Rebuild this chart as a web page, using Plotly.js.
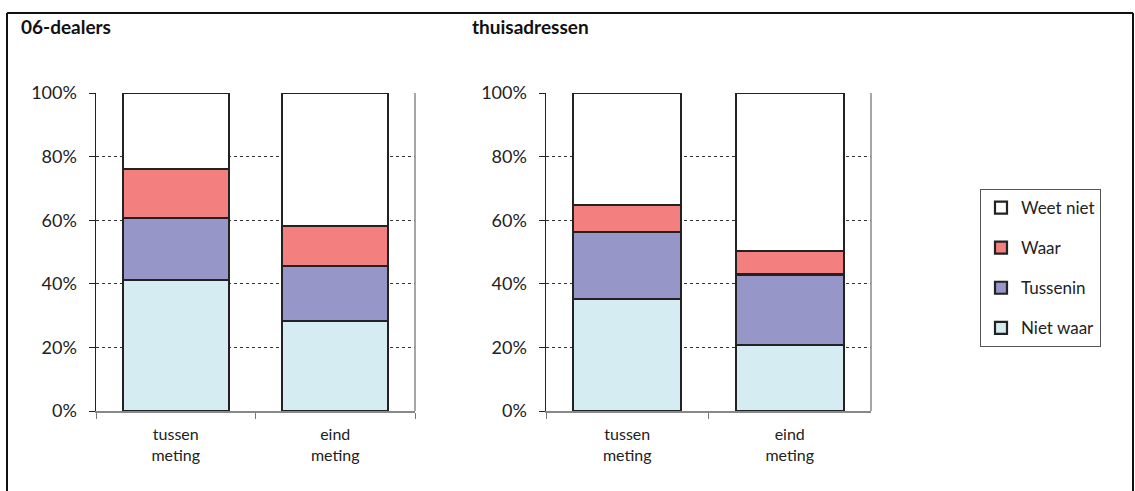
<!DOCTYPE html>
<html>
<head>
<meta charset="utf-8">
<script src="https://cdn.plot.ly/plotly-3.0.1.min.js"></script>
<style>html,body{margin:0;padding:0;background:#fff;}#chart{width:1135px;height:491px;}</style>
</head>
<body>
<div id="chart"></div>
<script>
const categories = ["tussen<br>meting", "eind<br>meting"];
const panels = ["06-dealers", "thuisadressen"];
const seriesNames = ["Niet waar", "Tussenin", "Waar", "Weet niet"];
const seriesColors = ["#D4ECF2", "#9696C8", "#F47F7F", "#FFFFFF"];
// values in %, per series: [tussen meting, eind meting]
const dealersNietWaar = [41.2, 28.4];
const dealersTussenin = [19.6, 17.2];
const dealersWaar = [15.2, 12.5];
const dealersWeetNiet = [24.0, 41.9];
const thuisNietWaar = [35.1, 20.7];
const thuisTussenin = [21.3, 22.2];
const thuisWaar = [8.5, 7.5];
const thuisWeetNiet = [35.1, 49.6];

const dealers = [dealersNietWaar, dealersTussenin, dealersWaar, dealersWeetNiet];
const thuis = [thuisNietWaar, thuisTussenin, thuisWaar, thuisWeetNiet];

const W = 1135, H = 491;
const FONT = "Lato, 'DejaVu Sans', sans-serif";
const traces = [];
[dealers, thuis].forEach((panel, p) => {
  panel.forEach((vals, i) => {
    traces.push({
      type: "bar",
      x: categories,
      y: vals,
      name: seriesNames[i],
      legendgroup: seriesNames[i],
      legendrank: 100 - i,
      showlegend: p === 0,
      xaxis: p === 0 ? "x" : "x2",
      yaxis: p === 0 ? "y" : "y2",
      marker: {color: seriesColors[i], line: {color: "#222", width: 2.2}},
      hoverinfo: "skip"
    });
  });
});

const yDom = [1 - 411 / H, 1 - 93 / H];
const xAxisBase = {
  type: "category",
  tickson: "boundaries",
  ticks: "outside",
  ticklen: 6,
  tickcolor: "#777",
  showline: true,
  linecolor: "#888",
  linewidth: 1.5,
  showgrid: false,
  ticklabelstandoff: 8,
  tickfont: {family: FONT, size: 16, color: "#222"},
  fixedrange: true
};
const yAxisBase = {
  range: [0, 100],
  tickvals: [0, 20, 40, 60, 80, 100],
  ticktext: ["0%", "20%", "40%", "60%", "80%", "100%"],
  ticks: "outside",
  ticklen: 6,
  tickcolor: "#222",
  showline: true,
  linecolor: "#222",
  linewidth: 1.5,
  showgrid: true,
  gridcolor: "#333",
  griddash: "dot",
  gridwidth: 1,
  zeroline: false,
  ticklabelstandoff: 8,
  tickfont: {family: FONT, size: 18, color: "#222"},
  domain: yDom,
  fixedrange: true
};

const px = v => v / W, py = v => 1 - v / H;
const layout = {
  width: W, height: H,
  margin: {l: 0, r: 0, t: 0, b: 0},
  paper_bgcolor: "#fff", plot_bgcolor: "#fff",
  barmode: "stack",
  bargap: 0.335,
  font: {family: FONT, color: "#222"},
  xaxis: Object.assign({}, xAxisBase, {domain: [px(96), px(415)], anchor: "y"}),
  yaxis: Object.assign({}, yAxisBase, {anchor: "x"}),
  xaxis2: Object.assign({}, xAxisBase, {domain: [px(546), px(871)], anchor: "y2"}),
  yaxis2: Object.assign({}, yAxisBase, {anchor: "x2"}),
  showlegend: true,
  legend: {
    x: px(980), y: py(189), xanchor: "left", yanchor: "top",
    traceorder: "grouped",
    tracegroupgap: 15,
    bordercolor: "#555", borderwidth: 1, bgcolor: "#fff",
    font: {family: FONT, size: 17, color: "#222"},
    itemwidth: 30
  },
  annotations: [
    {text: "<b>" + panels[0] + "</b>", xref: "paper", yref: "paper", x: px(19), y: py(27), xanchor: "left", yanchor: "middle", showarrow: false, font: {family: FONT, size: 19, color: "#111"}},
    {text: "<b>" + panels[1] + "</b>", xref: "paper", yref: "paper", x: px(470), y: py(27), xanchor: "left", yanchor: "middle", showarrow: false, font: {family: FONT, size: 19, color: "#111"}}
  ],
  shapes: [
    {type: "line", xref: "paper", yref: "paper", x0: px(7), x1: px(7), y0: py(13), y1: 0, line: {color: "#111", width: 2}},
    {type: "line", xref: "paper", yref: "paper", x0: px(7), x1: px(1133), y0: py(13), y1: py(13), line: {color: "#111", width: 2}},
    {type: "line", xref: "paper", yref: "paper", x0: px(1133), x1: px(1133), y0: py(13), y1: 0, line: {color: "#111", width: 2}},
    {type: "line", xref: "x domain", yref: "y domain", x0: 1, x1: 1, y0: 0, y1: 1, line: {color: "#888", width: 1.5}},
    {type: "line", xref: "x2 domain", yref: "y2 domain", x0: 1, x1: 1, y0: 0, y1: 1, line: {color: "#888", width: 1.5}}
  ]
};

Plotly.newPlot("chart", traces, layout, {displayModeBar: false, staticPlot: true});
</script>
</body>
</html>
